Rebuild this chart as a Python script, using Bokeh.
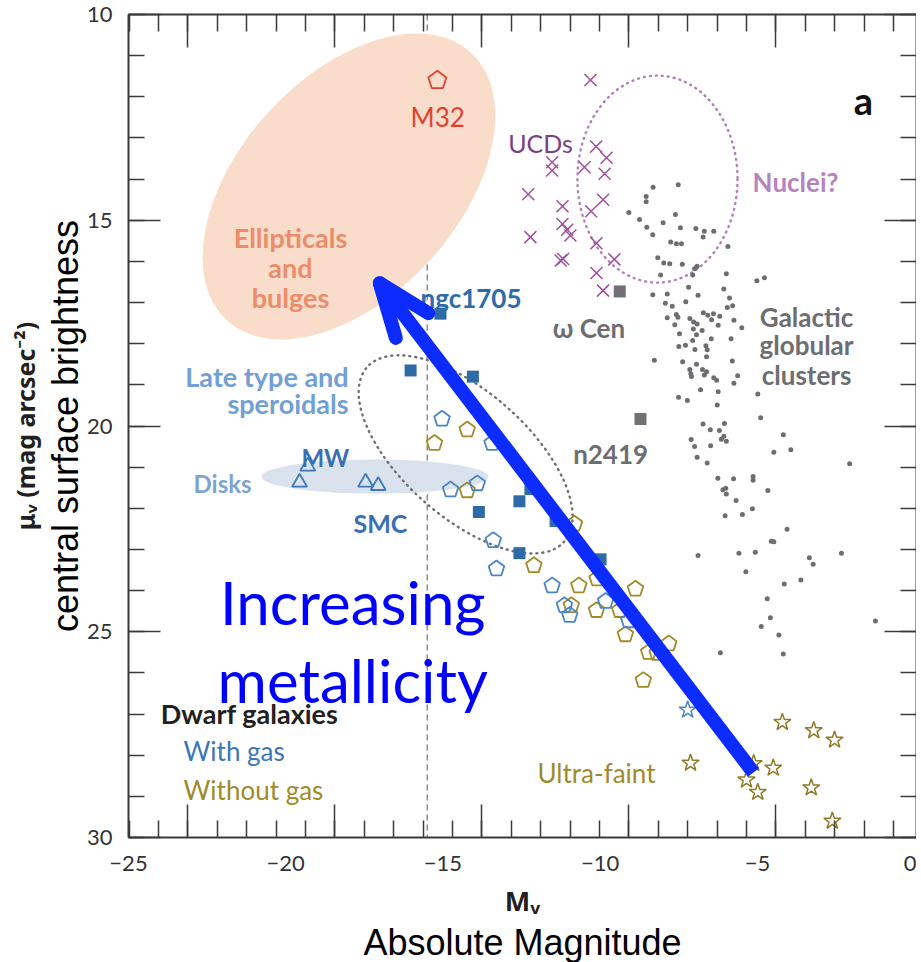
import math

from bokeh.plotting import figure
from bokeh.models import (Range1d, LinearAxis, SingleIntervalTicker, FixedTicker,
                          Label, Arrow, Span)
from bokeh.embed import file_html
from bokeh.resources import INLINE

# ---------------------------------------------------------------- data
# Galactic globular clusters: absolute magnitude M_V and central surface brightness mu_V
GC_MV = [-8.32, -7.52, -8.54, -8.54, -9.09, -7.61, -8.75, -8.00, -8.52, -7.45,
         -6.96, -6.69, -6.39, -6.73, -8.33, -7.76, -7.58, -7.42, -5.94, -8.17,
         -7.98, -7.79, -7.39, -6.92, -7.00, -7.06, -8.08, -5.99, -5.02, -4.78,
         -7.19, -6.07, -8.33, -7.87, -6.89, -5.89, -7.93, -7.71, -7.28, -5.96,
         -5.79, -6.72, -6.58, -6.40, -6.20, -7.87, -7.58, -7.53, -7.15, -7.03,
         -6.92, -5.75, -6.46, -7.63, -5.50, -6.25, -7.04, -6.76, -7.48, -6.94,
         -6.47, -7.06, -5.84, -7.50, -7.29, -6.64, -6.60, -6.99, -6.62, -8.28,
         -7.38, -5.80, -6.94, -7.15, -7.12, -7.10, -6.75, -6.62, -6.69, -6.39,
         -6.30, -5.63, -5.75, -6.81, -6.25, -4.99, -7.51, -7.23, -6.28, -4.90,
         -6.73, -6.05, -6.50, -6.21, -6.07, -6.15, -5.99, -7.11, -7.00, -6.49,
         -4.18, -3.94, -4.48, -6.92, -6.60, -2.07, -6.26, -5.76, -5.14, -5.14,
         -4.67, -6.10, -6.01, -5.99, -5.68, -5.16, -5.48, -6.03, -4.06, -4.56,
         -4.48, -6.89, -5.59, -5.07, -3.35, -3.23, -2.33, -5.37, -3.62, -4.15,
         -4.69, -4.59, -4.88, -4.32, -1.25, -6.18, -4.18]
GC_MU = [14.20, 14.14, 14.42, 14.55, 14.81, 14.86, 14.98, 15.06, 15.17, 15.18,
         15.20, 15.27, 15.27, 15.41, 15.35, 15.53, 15.57, 15.57, 15.64, 15.91,
         16.04, 16.06, 16.07, 16.12, 16.18, 16.33, 16.33, 16.30, 16.47, 16.40,
         16.63, 16.67, 16.81, 16.79, 16.82, 16.89, 17.02, 17.09, 16.98, 17.12,
         17.08, 17.25, 17.31, 17.27, 17.33, 17.37, 17.29, 17.36, 17.39, 17.47,
         17.52, 17.43, 17.42, 17.54, 17.61, 17.55, 17.64, 17.68, 17.76, 17.78,
         17.88, 17.92, 17.88, 18.07, 18.04, 18.05, 18.15, 18.14, 18.32, 18.40,
         18.44, 18.42, 18.50, 18.63, 18.73, 18.80, 18.63, 18.68, 18.76, 18.83,
         18.89, 18.78, 18.96, 19.12, 19.17, 19.22, 19.30, 19.38, 19.49, 19.80,
         19.95, 19.94, 20.09, 20.11, 20.25, 20.32, 20.37, 20.33, 20.50, 20.48,
         20.21, 20.58, 20.64, 20.76, 20.90, 20.92, 21.27, 21.28, 21.23, 21.32,
         21.57, 21.55, 21.51, 21.65, 21.81, 22.01, 22.15, 22.18, 22.51, 22.80,
         22.81, 23.15, 23.09, 23.07, 23.20, 23.36, 23.09, 23.54, 23.74, 23.84,
         24.20, 24.66, 24.87, 25.08, 24.74, 25.51, 25.54]

# Ultra-compact dwarfs
UCD_MV = [-10.31, -10.13, -9.80, -11.53, -11.53, -10.50, -9.86, -12.29, -9.91, -10.29,
          -11.20, -11.20, -11.05, -10.95, -12.22, -10.12, -11.26, -11.18, -9.55, -10.12,
          -9.91]
UCD_MU = [11.59, 13.21, 13.48, 13.59, 13.79, 13.71, 13.87, 14.37, 14.50, 14.78,
          14.66, 15.09, 15.23, 15.37, 15.41, 15.56, 15.98, 15.94, 15.95, 16.28,
          16.71]

# Massive clusters singled out (omega Cen, NGC 2419)
BIG_GC_NAMES = ["ω Cen", "n2419"]
BIG_GC_MV = [-9.38, -8.72]
BIG_GC_MU = [16.73, 19.83]

# Dwarf galaxies with gas: late types (squares), dwarfs (pentagons), ultra-faint (star)
GAS_LATE_MV = [-15.08, -16.03, -14.05, -13.86, -12.57, -12.22, -12.57, -11.42, -9.99]
GAS_LATE_MU = [17.27, 18.65, 18.80, 22.09, 21.83, 21.53, 23.09, 22.31, 23.24]
GAS_DWARF_MV = [-15.03, -13.44, -14.76, -13.91, -13.40, -13.30, -11.53, -11.14, -10.97,
                -9.83, -9.09]
GAS_DWARF_MU = [19.83, 20.42, 21.55, 21.40, 22.78, 23.47, 23.88, 24.36, 24.60,
                24.26, 24.73]
GAS_UF_MV = [-7.22]
GAS_UF_MU = [26.90]

# Dwarf galaxies without gas: dwarfs (pentagons), ultra-faint (stars)
NOGAS_DWARF_MV = [-15.27, -14.23, -14.23, -12.11, -10.82, -10.68, -10.10, -10.92,
                  -10.12, -9.38, -8.88, -9.20, -7.82, -8.63, -8.46, -8.19]
NOGAS_DWARF_MU = [20.42, 20.09, 21.57, 23.39, 22.38, 23.88, 23.71, 24.36,
                  24.48, 24.48, 23.96, 25.07, 25.29, 26.18, 25.50, 25.52]
NOGAS_UF_MV = [-7.13, -4.21, -3.21, -2.55, -4.50, -5.35, -4.99, -3.29, -2.62, -5.12]
NOGAS_UF_MU = [28.19, 27.20, 27.40, 27.63, 28.31, 28.60, 28.90, 28.79, 29.60, 28.20]

# Disk galaxies (MW, SMC ...) and M32
DISK_MV = [-19.30, -19.56, -17.46, -17.06]
DISK_MU = [20.98, 21.37, 21.37, 21.45]
M32_MV = [-15.18]
M32_MU = [11.60]

X_TICKS = [-25, -20, -15, -10, -5, 0]
DWARF_LIMIT_MV = -15.5

# Shaded / outlined regions: (centre M_V, centre mu_V, width in mag, height in mag/arcsec^2, tilt deg)
ELLIPTICALS_REGION = (-17.99, 14.18, 11.52, 5.33, 47.7)
DISKS_REGION = (-17.16, 21.23, 7.22, 0.83, 0.0)
LATE_TYPE_REGION = (-14.28, 20.69, 8.37, 3.05, -41.5)
NUCLEI_REGION = (-8.18, 14.00, 5.09, 5.03, 0.0)

# Metallicity trend arrow (from faint end to bright end)
TREND_FROM = (-5.13, 28.42)
TREND_TO = (-17.01, 16.53)

# ---------------------------------------------------------------- styling
X_START, X_END = -25.0, 0.056
Y_TOP, Y_BOTTOM = 10.0, 30.0
FRAME_W, FRAME_H = 788, 823
PX_X = FRAME_W / (X_END - X_START)
PX_Y = FRAME_H / (Y_BOTTOM - Y_TOP)

AXIS_COLOR = "#3a3a3a"
FONT = "Lato"
GRAY = "#6d6e71"
BLUE = "#3b76b8"
GOLD = "#a08a2a"
PURPLE = "#a0509d"
ARROW_BLUE = "#0b2bff"

p = figure(frame_width=FRAME_W, frame_height=FRAME_H,
           x_range=Range1d(X_START, X_END), y_range=Range1d(Y_BOTTOM, Y_TOP),
           x_axis_location=None, y_axis_location=None,
           toolbar_location=None, output_backend="svg",
           min_border_left=128, min_border_top=14, min_border_bottom=125,
           min_border_right=0)
p.grid.grid_line_color = None
p.outline_line_color = None
p.background_fill_color = "white"
p.border_fill_color = "white"

# inner tick marks of the frame follow their own spacing
p.extra_x_ranges = {"ticks": Range1d(-2.02, -2.02 + FRAME_W / 29.4)}


def frame_ticks(axis, major_len, minor_len):
    axis.major_tick_in = major_len
    axis.major_tick_out = 0
    axis.minor_tick_in = minor_len
    axis.minor_tick_out = 0
    axis.axis_line_color = AXIS_COLOR
    axis.axis_line_width = 2
    axis.major_tick_line_color = AXIS_COLOR
    axis.minor_tick_line_color = AXIS_COLOR
    axis.major_tick_line_width = 1.5
    axis.minor_tick_line_width = 1.5


def hidden_labels(axis):
    axis.major_label_text_font_size = "0px"
    axis.major_label_text_color = None
    axis.major_label_standoff = 0
    axis.axis_label_standoff = 0


def bare(axis):
    axis.axis_line_color = None
    axis.major_tick_line_color = None
    axis.minor_tick_line_color = None
    axis.major_tick_in = 0
    axis.major_tick_out = 0
    axis.minor_tick_in = 0
    axis.minor_tick_out = 0


# bottom: tick marks, then tick labels + M_V, then the plain-language title
ax_bt = LinearAxis(x_range_name="ticks", ticker=SingleIntervalTicker(interval=5, num_minor_ticks=5))
frame_ticks(ax_bt, 33, 17)
hidden_labels(ax_bt)
p.add_layout(ax_bt, "below")

ax_bl = LinearAxis(ticker=FixedTicker(ticks=X_TICKS), axis_label="Mᵥ")
bare(ax_bl)
ax_bl.major_label_standoff = 18
ax_bl.major_label_text_font = FONT
ax_bl.major_label_text_font_size = "22px"
ax_bl.major_label_text_color = "#333333"
ax_bl.axis_label_text_font = "Noto Sans"
ax_bl.axis_label_text_font_style = "bold"
ax_bl.axis_label_text_font_size = "27px"
ax_bl.axis_label_text_color = "#231f20"
ax_bl.axis_label_standoff = 8
p.add_layout(ax_bl, "below")

ax_bn = LinearAxis(ticker=FixedTicker(ticks=[]), axis_label="Absolute Magnitude")
bare(ax_bn)
hidden_labels(ax_bn)
ax_bn.axis_label_text_font = "Liberation Sans"
ax_bn.axis_label_text_font_style = "normal"
ax_bn.axis_label_text_font_size = "36px"
ax_bn.axis_label_text_color = "black"
ax_bn.axis_label_standoff = 0
p.add_layout(ax_bn, "below")

ax_top = LinearAxis(x_range_name="ticks", ticker=SingleIntervalTicker(interval=5, num_minor_ticks=5))
frame_ticks(ax_top, 33, 17)
hidden_labels(ax_top)
p.add_layout(ax_top, "above")

# left: tick marks + labels + descriptive title, then the symbol title
ax_l = LinearAxis(ticker=SingleIntervalTicker(interval=5, num_minor_ticks=5),
                  axis_label="central surface brightness")
frame_ticks(ax_l, 32, 16)
ax_l.major_label_standoff = 16
ax_l.major_label_text_font = FONT
ax_l.major_label_text_font_size = "22px"
ax_l.major_label_text_color = "#333333"
ax_l.axis_label_text_font = "Liberation Sans"
ax_l.axis_label_text_font_style = "normal"
ax_l.axis_label_text_font_size = "36px"
ax_l.axis_label_text_color = "black"
ax_l.axis_label_standoff = -2
p.add_layout(ax_l, "left")

ax_l2 = LinearAxis(ticker=FixedTicker(ticks=[]), axis_label="μᵥ (mag arcsec⁻²)")
bare(ax_l2)
hidden_labels(ax_l2)
ax_l2.axis_label_text_font = "Noto Sans"
ax_l2.axis_label_text_font_style = "bold"
ax_l2.axis_label_text_font_size = "25px"
ax_l2.axis_label_text_color = "#231f20"
ax_l2.axis_label_standoff = 0
p.add_layout(ax_l2, "left")

ax_r = LinearAxis(ticker=SingleIntervalTicker(interval=5, num_minor_ticks=5))
frame_ticks(ax_r, 32, 16)
hidden_labels(ax_r)
p.add_layout(ax_r, "right")

# ---------------------------------------------------------------- regions
for region, fill in [(ELLIPTICALS_REGION, "#f9ddca"), (DISKS_REGION, "#dae3ed")]:
    cx, cy, w, h, ang = region
    p.ellipse(x=[cx], y=[cy], width=[w], height=[h], angle=[ang], angle_units="deg",
              fill_color=fill, line_color=None)

p.add_layout(Span(location=DWARF_LIMIT_MV, dimension="height", line_color="#8c8c8c",
                  line_width=1.5, line_dash="6 4", level="underlay"))

for region, color in [(LATE_TYPE_REGION, "#707070"), (NUCLEI_REGION, "#b27fba")]:
    cx, cy, w, h, ang = region
    p.ellipse(x=[cx], y=[cy], width=[w], height=[h], angle=[ang], angle_units="deg",
              fill_color=None, line_color=color, line_width=2.4, line_dash="1 5",
              line_cap="round")

# ---------------------------------------------------------------- points


def pentagons(mv, mu, r_px):
    xs, ys = [], []
    for x, y in zip(mv, mu):
        xs.append([x + r_px * math.cos(math.radians(90 + 72 * k)) / PX_X for k in range(5)])
        ys.append([y - r_px * math.sin(math.radians(90 + 72 * k)) / PX_Y for k in range(5)])
    return xs, ys


p.scatter(GC_MV, GC_MU, marker="circle", size=5, fill_color=GRAY, line_color=None)
p.scatter(UCD_MV, UCD_MU, marker="x", size=17, line_color=PURPLE, line_width=1.5)
p.scatter(BIG_GC_MV, BIG_GC_MU, marker="square", size=12, fill_color="#707172", line_color=None)

p.scatter(DISK_MV, DISK_MU, marker="triangle", size=15, fill_color=None,
          line_color="#3f79b8", line_width=1.8)

xs, ys = pentagons(NOGAS_DWARF_MV, NOGAS_DWARF_MU, 8.2)
p.patches(xs, ys, fill_color=None, line_color=GOLD, line_width=1.8)
xs, ys = pentagons(GAS_DWARF_MV, GAS_DWARF_MU, 8.2)
p.patches(xs, ys, fill_color=None, line_color="#4a86c5", line_width=1.8)
xs, ys = pentagons(M32_MV, M32_MU, 9.5)
p.patches(xs, ys, fill_color=None, line_color="#e2412f", line_width=1.8)

p.scatter(GAS_LATE_MV, GAS_LATE_MU, marker="square", size=12, fill_color="#2e6aa6",
          line_color=None)
p.scatter(GAS_UF_MV, GAS_UF_MU, marker="star", size=18, fill_color=None,
          line_color="#4a86c5", line_width=1.5)
p.scatter(NOGAS_UF_MV, NOGAS_UF_MU, marker="star", size=18, fill_color=None,
          line_color="#8f7a27", line_width=1.5)

# ---------------------------------------------------------------- labels
LABELS = [
    # text, x, y, colour, size, style, align
    ("M32", -15.17, 12.50, "#e2412f", 26, "normal", "center"),
    ("Ellipticals", -19.85, 15.42, "#ec8c6a", 27, "bold", "center"),
    ("and", -19.85, 16.15, "#ec8c6a", 27, "bold", "center"),
    ("bulges", -19.85, 16.88, "#ec8c6a", 27, "bold", "center"),
    ("UCDs", -11.90, 13.13, "#7b3f86", 25, "normal", "center"),
    ("Nuclei?", -3.79, 14.08, "#b583bd", 26, "bold", "center"),
    ("ngc1705", -14.11, 16.88, "#2d6cab", 26, "bold", "center"),
    (BIG_GC_NAMES[0], -10.36, 17.63, GRAY, 26, "bold", "center"),
    ("Galactic", -3.44, 17.36, GRAY, 26, "bold", "center"),
    ("globular", -3.44, 18.04, GRAY, 26, "bold", "center"),
    ("clusters", -3.44, 18.77, GRAY, 26, "bold", "center"),
    (BIG_GC_NAMES[1], -9.67, 20.67, GRAY, 26, "bold", "center"),
    ("Late type and", -18.00, 18.80, "#72a0d5", 27, "bold", "right"),
    ("speroidals", -18.00, 19.45, "#72a0d5", 27, "bold", "right"),
    ("MW", -18.74, 20.76, "#3a70b3", 24, "bold", "center"),
    ("Disks", -22.01, 21.40, "#7ea3d0", 24, "bold", "center"),
    ("SMC", -16.99, 22.36, "#3a70b3", 25, "bold", "center"),
    ("Dwarf galaxies", -21.15, 26.99, "#231f20", 27, "bold", "center"),
    ("With gas", -23.25, 27.89, BLUE, 26, "normal", "left"),
    ("Without gas", -23.25, 28.84, GOLD, 26, "normal", "left"),
    ("Ultra-faint", -10.12, 28.44, GOLD, 26, "normal", "center"),
    ("a", -1.63, 12.07, "#111111", 38, "bold", "center"),
    ("Increasing", -17.87, 24.28, "#0000ff", 60, "normal", "center"),
    ("metallicity", -17.87, 26.18, "#0000ff", 60, "normal", "center"),
]
for text, x, y, color, size, style, align in LABELS:
    p.add_layout(Label(x=x, y=y, text=text, text_font=FONT, text_font_size=f"{size}px",
                       text_font_style=style, text_color=color, text_align=align,
                       text_baseline="alphabetic"))

# trend arrow: a thick shaft plus an open head whose arms are set in screen pixels
HEAD_LEN_PX, HEAD_HALF_ANGLE = 57.0, 21.0
back_x = (TREND_FROM[0] - TREND_TO[0]) * PX_X
back_y = (TREND_FROM[1] - TREND_TO[1]) * PX_Y
norm = math.hypot(back_x, back_y)
ux, uy = back_x / norm, back_y / norm

p.add_layout(Arrow(end=None, x_start=TREND_FROM[0], y_start=TREND_FROM[1],
                   x_end=TREND_TO[0], y_end=TREND_TO[1],
                   line_color=ARROW_BLUE, line_width=14))
for sign in (1, -1):
    a = math.radians(sign * HEAD_HALF_ANGLE)
    wx = (ux * math.cos(a) - uy * math.sin(a)) * HEAD_LEN_PX
    wy = (ux * math.sin(a) + uy * math.cos(a)) * HEAD_LEN_PX
    p.add_layout(Arrow(end=None, x_start=TREND_TO[0], y_start=TREND_TO[1],
                       x_end=TREND_TO[0] + wx / PX_X, y_end=TREND_TO[1] + wy / PX_Y,
                       line_color=ARROW_BLUE, line_width=14, line_cap="round"))

open("out.html", "w").write(file_html(p, INLINE))
